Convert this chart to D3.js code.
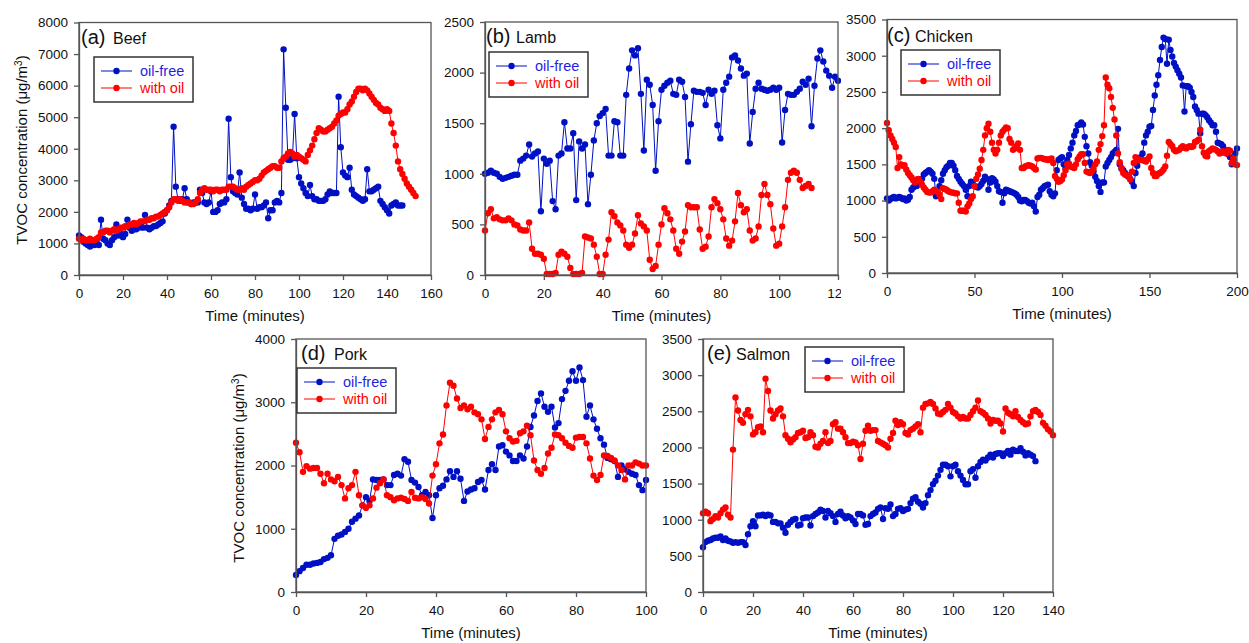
<!DOCTYPE html>
<html>
<head>
<meta charset="utf-8">
<script src="https://cdn.jsdelivr.net/npm/d3@7"></script>
<style>
body { margin: 0; background: #fff; }
text { font-family: "Liberation Sans", Arial, sans-serif; }
</style>
</head>
<body>
<script>
// sampling interval of every series, in minutes
var STEP = 1;

var beefOilFree = [1250,1200,1050,1000,950,900,950,950,1000,950,
 1750,1150,1100,1000,950,1100,1200,1600,1250,1300,
 1200,1300,1750,1500,1400,1450,1450,1500,1550,1500,
 1900,1500,1450,1500,1550,1550,1600,1650,1700,1950,
 2050,2200,2350,4700,2800,2400,2350,2400,2750,2400,
 2300,2250,2300,2300,2300,2700,2600,2300,2250,2300,
 2650,2000,2000,2050,2250,2300,2300,2400,4950,3100,
 2650,2600,2550,3250,2450,2250,2100,2100,2050,2100,
 2550,2100,2150,2150,2200,2300,1800,2050,2050,2300,
 2350,2300,2600,7150,5300,3650,3650,3700,5100,3700,
 3100,2900,2750,2600,2500,2850,2500,2400,2400,2350,
 2350,2350,2400,2550,2650,2600,2600,2600,5650,4050,
 3250,3150,3100,3400,2700,2550,2500,2450,2400,2350,
 2400,3350,2650,2650,2700,2750,2800,2350,2250,2150,
 2050,1950,2200,2250,2300,2200,2200,2200];
var beefWithOil = [1150,1100,1150,1100,1100,1150,1100,1100,1150,1200,
 1350,1350,1400,1400,1350,1400,1450,1400,1450,1500,
 1500,1550,1550,1600,1600,1650,1600,1650,1700,1700,
 1700,1750,1750,1800,1800,1850,1850,1900,1950,2000,
 2050,2150,2300,2400,2400,2350,2400,2350,2300,2300,
 2300,2250,2250,2300,2400,2600,2700,2750,2700,2700,
 2700,2650,2700,2700,2650,2700,2700,2700,2800,2800,
 2800,2750,2700,2700,2750,2700,2800,2850,2900,2950,
 3000,3000,3050,3150,3250,3300,3350,3400,3450,3450,
 3400,3400,3600,3700,3750,3850,3900,3850,3750,3800,
 3750,3700,3650,3600,3800,3950,4100,4300,4500,4650,
 4600,4550,4550,4600,4650,4700,4800,4900,5050,5100,
 5150,5150,5250,5400,5500,5650,5800,5900,5900,5850,
 5900,5850,5750,5650,5550,5450,5400,5300,5250,5200,
 5250,5200,4800,4500,4100,3600,3350,3200,3050,2900,
 2800,2700,2600,2500];

var lambOilFree = [1000,1010,1030,1010,1000,970,950,960,970,980,
 990,990,1130,1150,1180,1290,1170,1200,1220,630,
 1150,1100,1130,730,650,1180,1200,1510,1250,1250,
 1400,740,1320,1250,1290,700,990,1330,1500,1570,
 1600,1640,1180,1180,1520,1510,1180,1180,1780,2040,
 2220,2170,2240,1790,1230,1930,1880,1680,1030,1520,
 1830,1870,1900,1920,1790,1780,1930,1910,1760,1120,
 1490,1820,1810,1810,1800,1680,1830,1790,1820,1480,
 1350,1830,1900,1960,2150,2170,2120,2040,1970,1990,
 1300,1610,1840,1900,1840,1830,1820,1830,1850,1830,
 1850,1310,1630,1790,1780,1780,1810,1840,1910,1880,
 1940,1470,1870,2140,2220,2110,2020,1970,1850,1960,
 1920];
var lambWithOil = [440,610,650,560,570,550,540,540,560,540,
 500,490,450,440,440,520,260,210,210,200,
 160,10,10,10,20,200,230,210,180,70,
 10,10,10,20,380,370,360,300,180,10,
 10,200,350,620,580,520,490,440,300,270,
 300,410,590,510,480,440,150,60,90,300,
 500,660,610,550,440,260,210,330,430,690,
 670,670,670,450,260,280,380,670,750,710,
 650,550,360,290,340,530,810,690,620,650,
 440,340,360,480,790,900,790,700,460,290,
 310,480,670,940,1010,1030,1010,940,860,880,
 900,860];

var chickenOilFree = [1030,1000,1020,1040,1050,1030,1040,1050,1040,1020,
 1030,1000,1010,1050,1150,1180,1220,1200,1250,1270,
 1300,1360,1380,1400,1420,1400,1370,1300,1060,1100,
 1200,1280,1370,1420,1460,1480,1520,1520,1480,1420,
 1340,1300,1260,1230,1200,1150,1060,1200,1260,1230,
 1200,1190,1180,1200,1230,1270,1330,1300,1150,1250,
 1310,1290,1260,1200,1130,1120,970,1100,1150,1140,
 1130,1120,1110,1100,1080,1050,1000,990,1010,1010,
 990,970,960,970,920,850,1050,1080,1150,1170,
 1200,1210,1220,1130,1080,1060,1100,1420,1560,1580,
 1600,1500,1450,1560,1630,1720,1800,1900,1960,2040,
 2050,2080,2050,1880,1750,1650,1530,1480,1400,1330,
 1270,1200,1120,1250,1250,1470,1520,1560,1600,1650,
 1670,1700,1990,1500,1440,1420,1380,1350,1330,1300,
 1260,1200,1380,1480,1560,1600,1650,1800,1900,1950,
 2020,2030,2250,2450,2600,2730,2940,3120,3250,3230,
 2890,3220,3080,2990,2900,2850,2800,2750,2700,2590,
 2230,2580,2580,2560,2500,2430,2300,2250,2200,1930,
 2200,2200,2180,2150,2110,2080,2040,2040,1950,1800,
 1790,1780,1750,1700,1680,1640,1600,1500,1560,1650,
 1720];
var chickenWithOil = [2070,1970,1900,1850,1800,1740,1450,1600,1500,1480,
 1490,1430,1380,1350,1320,1280,1250,1290,1300,1260,
 1220,1180,1150,1120,1110,1110,1130,1150,1130,1120,
 1080,1020,1170,1160,1150,1130,1120,1110,1110,1100,
 1100,970,860,860,860,850,920,960,1020,1060,
 1200,1300,1360,1440,1560,1700,1900,2000,2060,1950,
 1800,1700,1650,1700,1800,1900,1950,1980,2010,2000,
 1850,1800,1700,1720,1750,1790,1700,1450,1450,1470,
 1480,1490,1480,1470,1450,1430,1580,1590,1590,1580,
 1570,1570,1560,1570,1580,1520,1340,1300,1260,1270,
 1290,1350,1420,1500,1510,1470,1460,1450,1500,1570,
 1610,1640,1640,1520,1400,1390,1380,1400,1440,1500,
 1540,1700,1780,1890,2040,2700,2600,2550,2430,2280,
 2120,1900,1650,1530,1450,1380,1360,1350,1340,1290,
 1400,1520,1600,1580,1560,1560,1560,1550,1540,1570,
 1610,1450,1380,1340,1340,1370,1380,1400,1430,1470,
 1620,1810,1780,1750,1700,1680,1690,1700,1730,1750,
 1730,1720,1740,1750,1740,1750,1810,1820,1840,1980,
 1750,1660,1620,1610,1680,1700,1720,1710,1700,1680,
 1650,1660,1680,1660,1650,1700,1690,1520,1580,1500,
 1490];

var porkOilFree = [270,330,380,430,430,450,460,475,520,540,
 580,840,890,910,950,1000,1110,1160,1210,1370,
 1500,1440,1780,1770,1770,1780,1690,1690,1850,1870,
 1840,2100,2060,1770,1730,1660,1530,1580,1530,1170,
 1530,1640,1680,1780,1910,1820,1910,1790,1440,1590,
 1620,1640,1740,1770,1620,1930,2020,1930,2300,2320,
 2220,2160,2070,2070,2160,2110,2300,2610,2790,3020,
 3140,2930,2850,2930,2600,2670,3050,3180,3340,3490,
 3340,3550,3350,2770,2950,2730,2580,2430,2330,2120,
 2100,2070,1820,2000,1940,1900,1870,1850,1690,1610,
 1770];
var porkWithOil = [2360,2210,1900,1990,1950,1960,1960,1870,1720,1870,
 1780,1750,1820,1690,1480,1640,1690,1900,1530,1370,
 1330,1370,1480,1650,1720,1780,1530,1500,1450,1480,
 1490,1470,1440,1580,1490,1480,1500,1470,1400,1840,
 2020,2350,2490,2950,3310,3260,3060,2910,2950,2890,
 2930,2840,2810,2730,2420,2610,2730,2840,2880,2810,
 2540,2430,2380,2390,2510,2540,2630,2480,2080,1930,
 1870,1960,2190,2280,2490,2480,2430,2360,2310,2280,
 2440,2450,2450,2350,2110,1840,1770,1850,2160,2150,
 2120,2080,2000,1930,1780,2000,2000,2050,2030,2000,
 2000];

var salmonOilFree = [620,690,710,720,740,750,750,770,720,740,
 710,700,680,690,680,690,690,650,800,910,
 980,910,1060,1060,1070,1050,1070,1060,970,970,
 950,950,890,820,930,970,1000,1010,920,930,
 1020,1030,1030,920,1050,1080,1100,1140,1120,1030,
 1120,1090,1050,970,1080,1110,1060,1020,1050,1030,
 990,940,1080,1080,1060,930,940,1050,1080,1100,
 1150,1170,1010,1160,1150,1210,1050,1080,1150,1160,
 1120,1140,1150,1230,1290,1310,1250,1220,1170,1230,
 1340,1410,1490,1540,1610,1690,1760,1760,1740,1600,
 1740,1760,1670,1610,1550,1490,1490,1670,1700,1580,
 1740,1800,1830,1820,1860,1900,1860,1910,1920,1920,
 1880,1920,1950,1900,1970,1950,1950,1990,1940,1890,
 1920,1900,1880,1810];
var salmonWithOil = [1090,1110,1090,980,1010,1050,1030,1090,1140,1170,
 1070,1030,1970,2690,2510,2380,2340,2460,2520,2430,
 2180,2210,2280,2290,2210,2950,2780,2510,2400,2460,
 2510,2540,2430,2170,2120,2070,2110,2140,2200,2210,
 2230,2130,2140,2210,2170,2010,2000,2050,2090,2210,
 2060,2090,2320,2350,2260,2260,2210,2140,2060,2060,
 2080,2070,2030,1840,2050,2230,2300,2230,2240,2240,
 2090,2070,2050,2030,2000,2120,2200,2370,2310,2350,
 2320,2200,2180,2240,2260,2290,2320,2210,2550,2600,
 2610,2630,2600,2540,2470,2460,2490,2520,2600,2550,
 2490,2470,2430,2400,2420,2400,2400,2450,2500,2550,
 2650,2500,2480,2450,2400,2330,2380,2370,2370,2330,
 2220,2540,2480,2460,2430,2500,2420,2380,2350,2320,
 2330,2430,2500,2520,2490,2450,2340,2300,2250,2220,
 2170];

var seriesNames = ["oil-free", "with oil"];
var xLabel = "Time (minutes)";

var width = 1249, height = 643;
var BLUE = "#0010c4", RED = "#ff0000", FRAME = "#555";
var R = 3.2;

var svg = d3.select("body")
	.append("svg")
		.attr("width", width)
		.attr("height", height);

svg.append("rect")
		.attr("width", width)
		.attr("height", height)
		.attr("fill", "white");

var panels = [
	{ tag: "(a)", name: "Beef", oilFree: beefOilFree, withOil: beefWithOil,
	  xMax: 160, xTicks: d3.range(0, 161, 20), yMax: 8000, yTicks: d3.range(0, 8001, 1000),
	  left: 79, right: 431, top: 22.5, bottom: 275,
	  title: [81, 44, 113], legend: [94, 57], yLabel: [27, 150] },
	{ tag: "(b)", name: "Lamb", oilFree: lambOilFree, withOil: lambWithOil,
	  xMax: 120, xTicks: d3.range(0, 121, 20), yMax: 2500, yTicks: d3.range(0, 2501, 500),
	  left: 485, right: 838, top: 22, bottom: 275,
	  title: [486, 43, 516], legend: [489, 52] },
	{ tag: "(c)", name: "Chicken", oilFree: chickenOilFree, withOil: chickenWithOil,
	  xMax: 200, xTicks: d3.range(0, 201, 50), yMax: 3500, yTicks: d3.range(0, 3501, 500),
	  left: 887, right: 1237, top: 19.5, bottom: 273,
	  title: [887, 42, 915], legend: [901, 50], cover: [841, 0, 408, 328] },
	{ tag: "(d)", name: "Pork", oilFree: porkOilFree, withOil: porkWithOil,
	  xMax: 100, xTicks: d3.range(0, 101, 20), yMax: 4000, yTicks: d3.range(0, 4001, 1000),
	  left: 296, right: 646, top: 339, bottom: 592,
	  title: [301, 360, 334], legend: [297, 368], yLabel: [244, 468] },
	{ tag: "(e)", name: "Salmon", oilFree: salmonOilFree, withOil: salmonWithOil,
	  xMax: 140, xTicks: d3.range(0, 141, 20), yMax: 3500, yTicks: d3.range(0, 3501, 500),
	  left: 703, right: 1053, top: 339, bottom: 592,
	  title: [707, 360, 736], legend: [805, 347] }
];

panels.forEach(drawPanel);

function drawPanel(p) {
	var g = svg.append("g");

	if (p.cover) {
		g.append("rect")
			.attr("x", p.cover[0]).attr("y", p.cover[1])
			.attr("width", p.cover[2]).attr("height", p.cover[3])
			.attr("fill", "white");
	}

	var x = d3.scaleLinear().domain([0, p.xMax]).range([p.left, p.right]);
	var y = d3.scaleLinear().domain([0, p.yMax]).range([p.bottom, p.top]);

	var line = d3.line()
		.x(function(d, i) { return x(i * STEP); })
		.y(function(d) { return y(d); });

	[[p.oilFree, BLUE], [p.withOil, RED]].forEach(function(s) {
		g.append("path")
			.datum(s[0])
			.attr("fill", "none")
			.attr("stroke", s[1])
			.attr("stroke-width", 1)
			.attr("d", line);
		g.append("g")
			.selectAll("circle")
			.data(s[0])
			.enter()
			.append("circle")
				.attr("cx", function(d, i) { return x(i * STEP); })
				.attr("cy", function(d) { return y(d); })
				.attr("r", R)
				.attr("fill", s[1]);
	});

	// frame
	g.append("rect")
		.attr("x", p.left).attr("y", p.top)
		.attr("width", p.right - p.left).attr("height", p.bottom - p.top)
		.attr("fill", "none")
		.attr("stroke", FRAME)
		.attr("stroke-width", 1.3);

	var xa = g.append("g")
		.attr("transform", "translate(0," + p.bottom + ")")
		.call(d3.axisBottom(x).tickValues(p.xTicks).tickSize(5).tickSizeOuter(0).tickPadding(8));
	var ya = g.append("g")
		.attr("transform", "translate(" + p.left + ",0)")
		.call(d3.axisLeft(y).tickValues(p.yTicks).tickSize(5).tickSizeOuter(0).tickPadding(6).tickFormat(d3.format("d")));
	[xa, ya].forEach(function(a) {
		a.select(".domain").attr("stroke", FRAME).attr("stroke-width", 1.3);
		a.selectAll(".tick line").attr("stroke", FRAME).attr("stroke-width", 1.3);
		a.selectAll(".tick text")
			.attr("fill", "#111")
			.style("font-size", "13.5px")
			.style("font-family", "'Liberation Sans', Arial, sans-serif");
	});

	g.append("text")
		.attr("x", (p.left + p.right) / 2)
		.attr("y", p.bottom + 46)
		.attr("text-anchor", "middle")
		.style("font-size", "15px")
		.attr("fill", "#111")
		.text(xLabel);

	if (p.yLabel) {
		var t = g.append("text")
			.attr("transform", "translate(" + p.yLabel[0] + "," + p.yLabel[1] + ") rotate(-90)")
			.attr("text-anchor", "middle")
			.style("font-size", "15px")
			.attr("fill", "#111");
		t.append("tspan").text("TVOC concentration (\u03bcg/m");
		t.append("tspan").attr("baseline-shift", "super").style("font-size", "10px").text("3");
		t.append("tspan").text(")");
	}

	// panel title
	g.append("text")
		.attr("x", p.title[0]).attr("y", p.title[1])
		.style("font-size", "20px")
		.attr("fill", "#111")
		.text(p.tag);
	g.append("text")
		.attr("x", p.title[2]).attr("y", p.title[1])
		.style("font-size", "16px")
		.attr("fill", "#111")
		.text(p.name);

	// legend
	var lx = p.legend[0], ly = p.legend[1];
	g.append("rect")
		.attr("x", lx).attr("y", ly)
		.attr("width", 99).attr("height", 45)
		.attr("fill", "white")
		.attr("stroke", "#333")
		.attr("stroke-width", 1.5);
	[[BLUE, "#1f1fe6"], [RED, RED]].forEach(function(c, k) {
		var ry = ly + 14 + k * 17;
		g.append("line")
			.attr("x1", lx + 7).attr("x2", lx + 38)
			.attr("y1", ry).attr("y2", ry)
			.attr("stroke", c[0]).attr("stroke-width", 1);
		g.append("circle")
			.attr("cx", lx + 22.5).attr("cy", ry)
			.attr("r", R)
			.attr("fill", c[0]);
		g.append("text")
			.attr("x", lx + 46).attr("y", ry)
			.attr("dy", "0.35em")
			.style("font-size", "14.5px")
			.attr("fill", c[1])
			.text(seriesNames[k]);
	});
}
</script>
</body>
</html>
